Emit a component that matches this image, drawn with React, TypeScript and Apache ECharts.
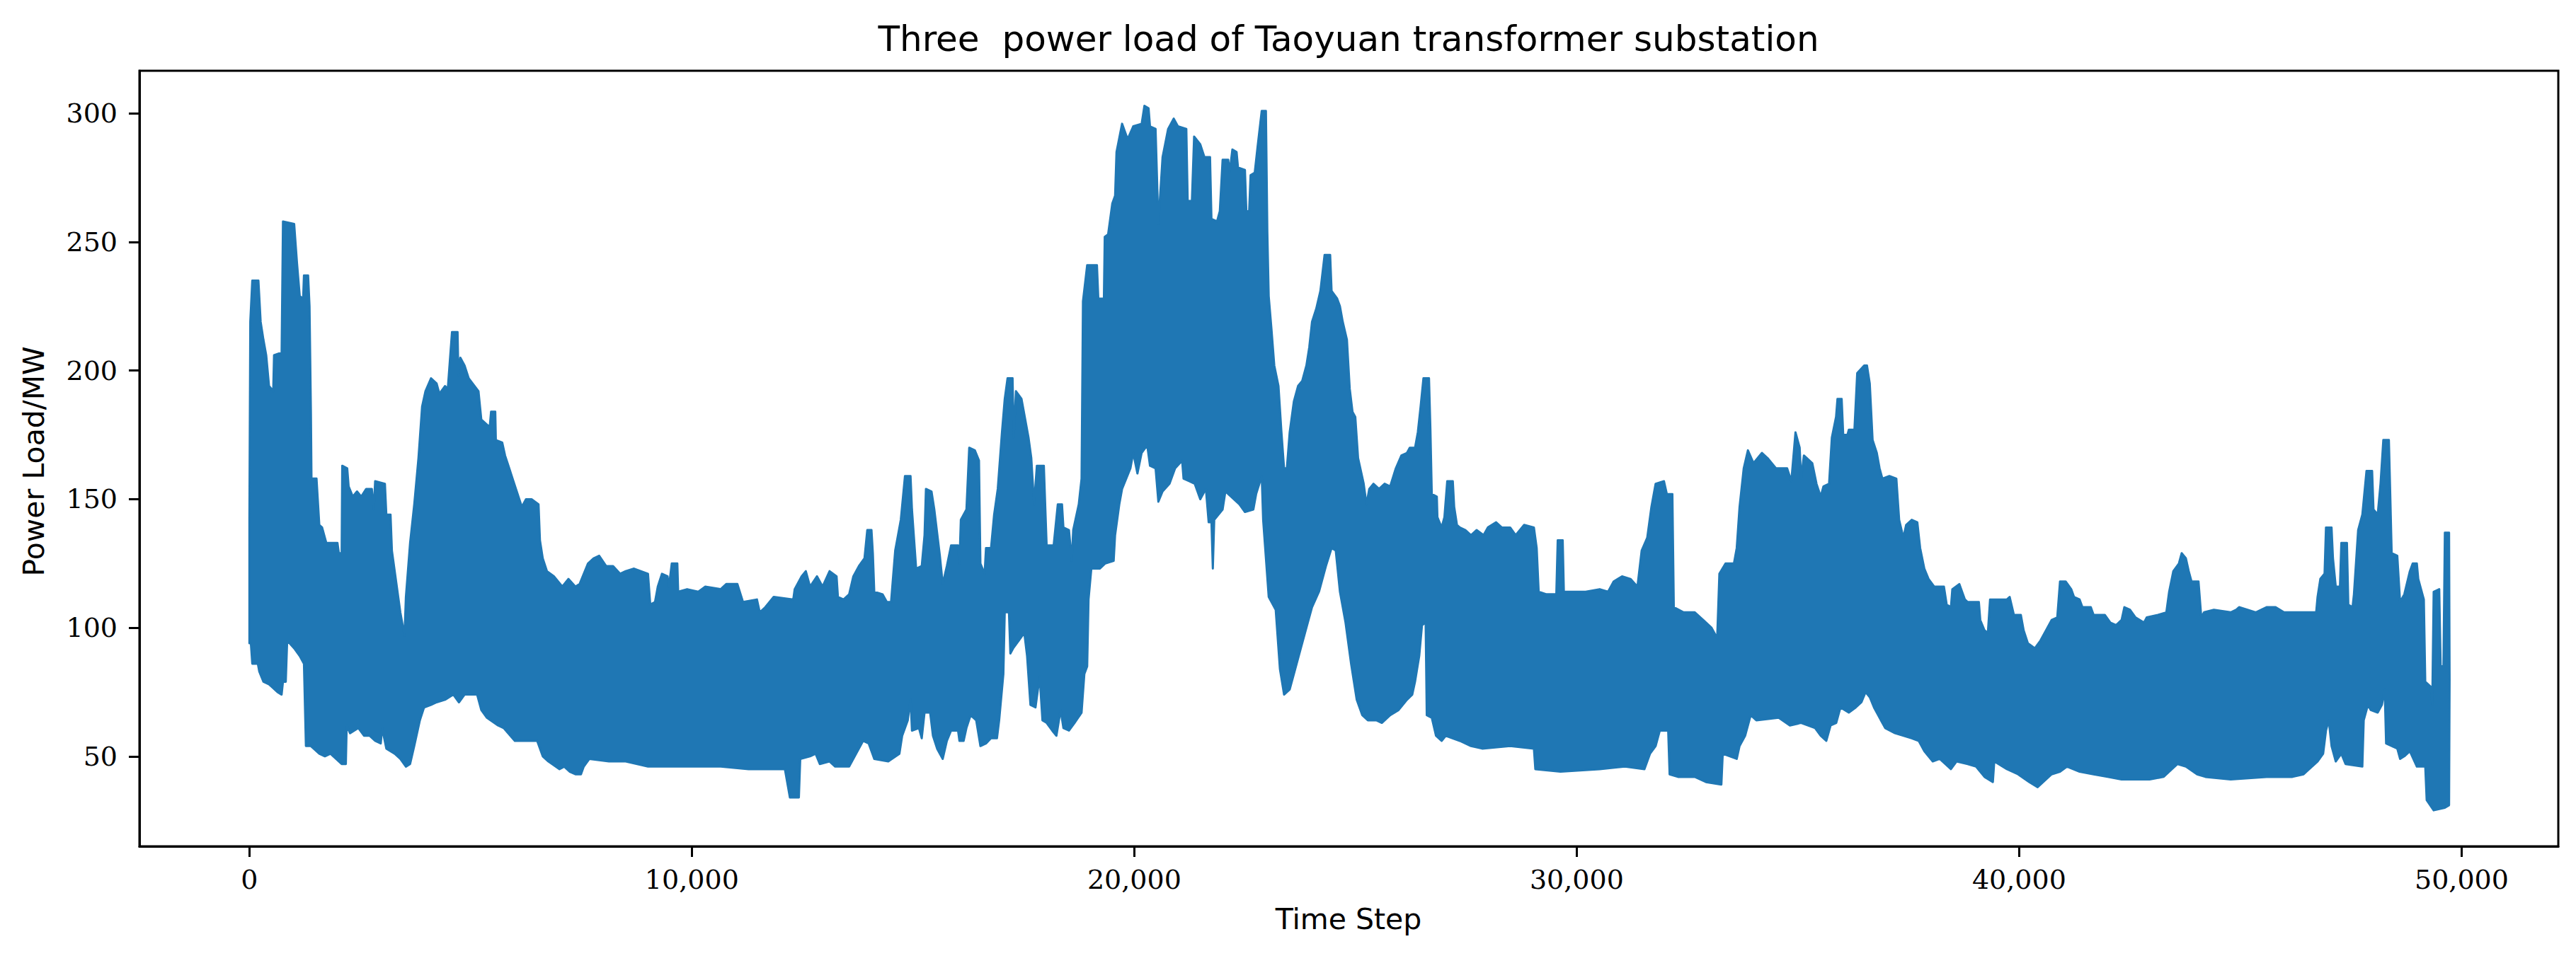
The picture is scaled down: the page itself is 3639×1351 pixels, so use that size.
import React, { useEffect, useRef } from "react";
import * as echarts from "echarts";

const TITLE = "Three  power load of Taoyuan transformer substation";
const X_NAME = "Time Step";
const Y_NAME = "Power Load/MW";
const X_TICKS = [0, 10000, 20000, 30000, 40000, 50000];
const Y_TICKS = [50, 100, 150, 200, 250, 300];
const BLUE = "#1f77b4";

// upper envelope of the dense load trace: [time step, MW]
const upperEnvelope: [number, number][] = [
  [0, 142], [20, 219], [65, 235], [204, 235], [254, 219], [317, 212], [380, 206], [444, 194], [538, 192], [557, 206],
  [728, 207], [759, 258], [1012, 257], [1075, 242], [1138, 229], [1214, 228], [1233, 237], [1327, 237], [1359, 225], [1390, 184],
  [1403, 158], [1517, 158], [1580, 140], [1643, 139], [1738, 133], [1990, 133], [2022, 129], [2085, 129], [2098, 163], [2211, 162],
  [2243, 155], [2337, 151], [2432, 153], [2527, 151], [2640, 154], [2767, 154], [2811, 146], [2842, 157], [3063, 156], [3095, 144],
  [3190, 144], [3221, 130], [3316, 118], [3411, 106], [3505, 97], [3537, 112], [3632, 133], [3726, 148], [3821, 166], [3903, 186],
  [3979, 192], [4105, 197], [4231, 195], [4294, 191], [4421, 194], [4484, 193], [4579, 215], [4705, 215], [4724, 198], [4768, 205],
  [4863, 202], [4957, 197], [5178, 192], [5241, 181], [5431, 178], [5462, 184], [5557, 184], [5570, 173], [5715, 172], [5778, 167],
  [5873, 162], [5967, 157], [6157, 147], [6251, 150], [6378, 150], [6535, 148], [6567, 134], [6630, 127], [6725, 122], [6883, 120],
  [7072, 116], [7210, 119], [7368, 116], [7463, 117], [7652, 125], [7778, 127], [7905, 128], [8062, 124], [8220, 124], [8378, 121],
  [8504, 122], [8694, 123], [9009, 121], [9060, 109], [9167, 110], [9230, 116], [9325, 121], [9451, 120], [9483, 116], [9546, 125],
  [9672, 125], [9691, 114], [9893, 115], [10146, 114], [10304, 116], [10651, 115], [10777, 117], [11030, 117], [11156, 110], [11471, 111],
  [11535, 106], [11661, 108], [11850, 112], [12292, 111], [12324, 115], [12481, 120], [12576, 122], [12671, 116], [12829, 120], [12955, 116],
  [13113, 122], [13271, 120], [13302, 112], [13429, 111], [13555, 113], [13650, 120], [13776, 124], [13902, 127], [13965, 138], [14060, 138],
  [14091, 129], [14123, 114], [14312, 113], [14407, 110], [14502, 110], [14596, 130], [14723, 142], [14817, 159], [14943, 159], [14975, 146],
  [15070, 123], [15196, 124], [15259, 136], [15291, 154], [15417, 153], [15480, 146], [15606, 128], [15670, 117], [15764, 124], [15859, 132],
  [16017, 132], [16048, 125], [16080, 142], [16206, 146], [16269, 170], [16396, 169], [16490, 165], [16522, 125], [16617, 121], [16648, 131],
  [16762, 131], [16832, 144], [16914, 154], [17009, 176], [17072, 189], [17135, 197], [17249, 197], [17274, 174], [17325, 192], [17451, 189],
  [17546, 180], [17609, 174], [17672, 166], [17735, 148], [17798, 163], [17956, 163], [17988, 147], [18019, 132], [18177, 132], [18271, 148],
  [18366, 148], [18398, 139], [18524, 138], [18587, 126], [18619, 138], [18745, 148], [18808, 158], [18840, 227], [18935, 241], [19156, 241],
  [19187, 228], [19313, 228], [19332, 252], [19408, 253], [19503, 265], [19566, 268], [19598, 285], [19724, 296], [19850, 290], [19976, 295],
  [20166, 296], [20229, 303], [20323, 302], [20355, 295], [20481, 294], [20544, 257], [20639, 283], [20765, 294], [20892, 298], [20986, 295],
  [21176, 294], [21207, 266], [21302, 266], [21352, 291], [21491, 288], [21586, 283], [21712, 283], [21744, 259], [21870, 258], [21933, 262],
  [21996, 282], [22123, 282], [22154, 277], [22217, 286], [22312, 285], [22344, 279], [22501, 278], [22533, 262], [22596, 262], [22628, 276],
  [22722, 277], [22786, 287], [22880, 301], [22975, 301], [23007, 254], [23038, 229], [23101, 216], [23164, 202], [23259, 194], [23322, 177],
  [23385, 162], [23448, 162], [23512, 176], [23606, 188], [23701, 194], [23796, 196], [23890, 202], [23954, 209], [24017, 219], [24111, 224],
  [24206, 231], [24301, 245], [24427, 245], [24459, 231], [24585, 228], [24648, 225], [24711, 219], [24806, 212], [24869, 193], [24932, 184],
  [24995, 182], [25058, 166], [25185, 156], [25248, 148], [25311, 154], [25405, 156], [25532, 154], [25658, 156], [25784, 155], [25911, 162],
  [26037, 167], [26163, 168], [26226, 170], [26345, 170], [26408, 176], [26471, 186], [26535, 197], [26661, 197], [26693, 177], [26724, 152],
  [26838, 151], [26851, 143], [26946, 139], [27009, 143], [27073, 157], [27199, 157], [27230, 147], [27293, 140], [27357, 139], [27483, 138],
  [27610, 136], [27736, 138], [27894, 136], [27991, 139], [28178, 141], [28305, 139], [28495, 139], [28621, 136], [28811, 140], [29032, 139],
  [29095, 131], [29140, 114], [29317, 113], [29538, 113], [29570, 134], [29683, 134], [29709, 114], [30202, 114], [30518, 115], [30708, 114],
  [30834, 118], [31024, 120], [31214, 119], [31372, 116], [31467, 130], [31593, 135], [31688, 147], [31783, 156], [31972, 157], [32036, 152],
  [32162, 152], [32194, 108], [32415, 106], [32668, 106], [32858, 103], [33047, 100], [33174, 96], [33224, 121], [33363, 125], [33553, 125],
  [33616, 131], [33680, 147], [33774, 162], [33869, 169], [33996, 164], [34186, 168], [34312, 166], [34502, 162], [34755, 162], [34850, 157],
  [34944, 176], [35039, 170], [35071, 158], [35134, 167], [35324, 164], [35419, 156], [35513, 151], [35577, 155], [35703, 156], [35766, 174],
  [35861, 182], [35893, 189], [35988, 189], [36023, 175], [36118, 175], [36149, 177], [36276, 177], [36339, 199], [36497, 202], [36560, 202],
  [36623, 195], [36687, 173], [36782, 168], [36845, 162], [36908, 158], [37066, 159], [37224, 158], [37287, 142], [37382, 135], [37445, 140],
  [37572, 142], [37698, 141], [37762, 131], [37856, 123], [37951, 119], [38078, 116], [38299, 116], [38362, 109], [38457, 108], [38489, 115],
  [38647, 117], [38773, 111], [38837, 110], [39089, 110], [39121, 103], [39216, 99], [39292, 98], [39342, 111], [39722, 111], [39785, 112],
  [39880, 105], [40038, 105], [40101, 99], [40196, 94], [40354, 92], [40480, 95], [40607, 99], [40733, 103], [40860, 104], [40923, 118],
  [41050, 118], [41176, 115], [41239, 112], [41366, 111], [41429, 108], [41619, 108], [41682, 105], [41935, 105], [42061, 102], [42188, 101],
  [42314, 103], [42377, 108], [42504, 107], [42630, 104], [42820, 102], [42883, 104], [43136, 105], [43326, 106], [43389, 114], [43484, 122],
  [43610, 125], [43673, 129], [43768, 127], [43832, 122], [43895, 118], [44053, 118], [44116, 104], [44179, 106], [44401, 107], [44780, 106],
  [44907, 107], [44970, 108], [45160, 107], [45349, 106], [45590, 108], [45795, 108], [45985, 106], [46428, 106], [46712, 106], [46744, 112],
  [46807, 119], [46902, 121], [46934, 139], [47060, 139], [47092, 127], [47155, 116], [47250, 116], [47281, 133], [47408, 133], [47439, 109],
  [47534, 108], [47566, 113], [47661, 138], [47756, 144], [47850, 161], [47977, 161], [48008, 146], [48103, 144], [48167, 156], [48230, 173],
  [48356, 173], [48388, 151], [48419, 129], [48546, 128], [48609, 110], [48704, 113], [48830, 122], [48894, 125], [48988, 125], [49020, 119],
  [49146, 111], [49178, 79], [49304, 77], [49336, 70], [49368, 114], [49494, 115], [49526, 85], [49589, 85], [49621, 137], [49716, 137],
  [49728, 80],
];

// lower envelope of the dense load trace: [time step, MW]
const lowerEnvelope: [number, number][] = [
  [0, 94], [33, 94], [65, 86], [191, 86], [223, 83], [317, 79], [444, 78], [507, 77], [633, 75], [728, 74],
  [759, 79], [822, 79], [854, 95], [1012, 92], [1138, 89], [1233, 86], [1277, 54], [1390, 54], [1580, 51], [1706, 50],
  [1832, 51], [1959, 49], [2085, 47], [2180, 47], [2199, 62], [2274, 59], [2464, 61], [2590, 58], [2716, 58], [2842, 56],
  [2969, 55], [3000, 61], [3095, 53], [3284, 51], [3411, 49], [3537, 46], [3632, 47], [3726, 54], [3853, 64], [3947, 69],
  [4105, 70], [4231, 71], [4421, 72], [4610, 74], [4736, 71], [4863, 74], [5147, 74], [5241, 68], [5368, 65], [5620, 62],
  [5746, 61], [5999, 56], [6251, 56], [6504, 56], [6630, 50], [6757, 48], [7009, 45], [7116, 46], [7242, 44], [7368, 43],
  [7494, 43], [7557, 46], [7684, 49], [8126, 48], [8504, 48], [9009, 46], [10020, 46], [10651, 46], [11282, 45], [12103, 45],
  [12216, 34], [12419, 34], [12450, 49], [12671, 50], [12797, 51], [12892, 47], [13113, 48], [13239, 46], [13555, 46], [13681, 50],
  [13870, 56], [13997, 55], [14123, 49], [14439, 48], [14691, 51], [14754, 58], [14880, 64], [14943, 72], [14975, 60], [15133, 61],
  [15196, 57], [15259, 67], [15386, 67], [15449, 58], [15543, 53], [15670, 49], [15764, 56], [15859, 60], [16017, 60], [16048, 56],
  [16143, 56], [16206, 61], [16301, 66], [16427, 64], [16522, 54], [16648, 55], [16757, 57], [16896, 57], [16946, 64], [17041, 82],
  [17072, 106], [17167, 106], [17199, 90], [17262, 92], [17388, 95], [17514, 98], [17577, 89], [17653, 70], [17767, 69], [17861, 81],
  [17924, 64], [18019, 63], [18145, 60], [18240, 58], [18335, 68], [18398, 61], [18524, 60], [18650, 63], [18808, 67], [18871, 82],
  [18935, 85], [18966, 111], [19029, 123], [19219, 123], [19345, 125], [19534, 126], [19566, 136], [19661, 148], [19724, 154], [19913, 162],
  [19976, 168], [20071, 160], [20166, 168], [20292, 171], [20355, 163], [20481, 162], [20544, 149], [20639, 153], [20797, 156], [20923, 162],
  [21081, 165], [21113, 158], [21239, 157], [21365, 156], [21491, 150], [21618, 154], [21681, 141], [21744, 141], [21775, 123], [21807, 142],
  [21996, 146], [22059, 153], [22249, 150], [22375, 148], [22501, 145], [22691, 146], [22754, 152], [22880, 159], [22912, 142], [23038, 112],
  [23196, 107], [23291, 84], [23385, 74], [23512, 76], [23638, 84], [23764, 92], [23890, 100], [24017, 108], [24174, 114], [24332, 124],
  [24459, 131], [24553, 130], [24648, 114], [24774, 102], [24900, 86], [25027, 72], [25153, 66], [25279, 64], [25469, 64], [25595, 63],
  [25784, 66], [25974, 68], [26163, 72], [26282, 74], [26345, 79], [26440, 89], [26503, 101], [26585, 102], [26610, 66], [26724, 65],
  [26819, 58], [26946, 56], [27040, 58], [27357, 56], [27610, 54], [27862, 53], [28495, 54], [29032, 53], [29064, 45], [29633, 44],
  [30518, 45], [31087, 46], [31530, 45], [31656, 51], [31783, 54], [31878, 60], [32067, 60], [32099, 43], [32289, 42], [32668, 42],
  [32921, 40], [33269, 39], [33300, 51], [33616, 49], [33680, 54], [33806, 58], [33932, 66], [34059, 64], [34565, 65], [34818, 62],
  [35071, 63], [35387, 61], [35513, 58], [35640, 56], [35738, 62], [35865, 63], [35960, 69], [36149, 67], [36307, 69], [36434, 71],
  [36529, 75], [36623, 73], [36718, 69], [36876, 64], [36971, 61], [37193, 59], [37572, 57], [37730, 56], [37856, 52], [38046, 48],
  [38204, 49], [38457, 45], [38584, 48], [38837, 47], [39026, 46], [39216, 42], [39405, 40], [39437, 48], [39722, 45], [39975, 43],
  [40228, 40], [40417, 38], [40607, 41], [40733, 43], [40923, 44], [41081, 46], [41366, 44], [41682, 43], [41998, 42], [42314, 41],
  [42946, 41], [43263, 42], [43452, 45], [43579, 47], [43768, 46], [44021, 43], [44211, 42], [44780, 41], [45590, 42], [46175, 42],
  [46428, 43], [46554, 45], [46744, 48], [46870, 51], [46934, 60], [46997, 64], [47060, 54], [47155, 48], [47281, 51], [47376, 47],
  [47756, 46], [47787, 64], [47882, 70], [47945, 68], [48103, 67], [48198, 70], [48261, 76], [48293, 55], [48546, 53], [48609, 49],
  [48704, 50], [48830, 52], [48988, 46], [49178, 46], [49210, 33], [49368, 29], [49621, 30], [49716, 31], [49728, 80],
];

export default function App() {
  const ref = useRef<HTMLDivElement>(null);

  useEffect(() => {
    if (!ref.current) return;
    const chart = echarts.init(ref.current, null, { renderer: "svg" });
    const tickLabel = {
      fontFamily: "DejaVu Serif",
      fontSize: 38,
      color: "#000",
    };
    const axisLine = { show: true, onZero: false, lineStyle: { color: "#000", width: 3 } };
    const axisTick = (values: number[]) => ({
      show: true,
      inside: false,
      length: 15,
      lineStyle: { color: "#000", width: 3 },
      customValues: values,
    });
    chart.setOption({
      animation: false,
      backgroundColor: "#fff",
      grid: {
        left: 197,
        right: 25,
        top: 100,
        bottom: 155,
        show: true,
        borderColor: "#000",
        borderWidth: 3,
        backgroundColor: "transparent",
        outerBoundsMode: "none",
      },
      xAxis: {
        type: "value",
        position: "bottom",
        min: -2485,
        max: 52185,
        axisLine,
        splitLine: { show: false },
        axisTick: axisTick(X_TICKS),
        axisLabel: {
          ...tickLabel,
          margin: 28,
          customValues: X_TICKS,
          formatter: (v: number) => v.toLocaleString("en-US"),
        },
      },
      yAxis: {
        type: "value",
        position: "left",
        min: 15,
        max: 316.6,
        axisLine,
        splitLine: { show: false },
        axisTick: axisTick(Y_TICKS),
        axisLabel: {
          ...tickLabel,
          margin: 31,
          customValues: Y_TICKS,
        },
      },
      graphic: [
        {
          type: "text",
          x: 1905,
          y: 55,
          style: {
            text: TITLE,
            font: "50px 'DejaVu Sans'",
            fill: "#000",
            textAlign: "center",
            textVerticalAlign: "middle",
          },
        },
        {
          type: "text",
          x: 1905,
          y: 1299,
          style: {
            text: X_NAME,
            font: "41px 'DejaVu Sans'",
            fill: "#000",
            textAlign: "center",
            textVerticalAlign: "middle",
          },
        },
        {
          type: "text",
          x: 48,
          y: 652,
          rotation: Math.PI / 2,
          style: {
            text: Y_NAME,
            font: "41px 'DejaVu Sans'",
            fill: "#000",
            textAlign: "center",
            textVerticalAlign: "middle",
          },
        },
      ],
      series: [
        {
          type: "custom",
          silent: true,
          clip: true,
          data: [[0, 100]],
          renderItem: (_params: any, api: any) => {
            const pts = upperEnvelope
              .map((p) => api.coord(p))
              .concat(lowerEnvelope.slice().reverse().map((p) => api.coord(p)));
            return {
              type: "polygon",
              shape: { points: pts },
              style: { fill: BLUE, stroke: BLUE, lineWidth: 3, lineJoin: "round" },
            };
          },
        },
      ],
    });
    return () => chart.dispose();
  }, []);

  return (
    <div
      ref={ref}
      style={{ position: "fixed", left: 0, top: 0, width: 3639, height: 1351, background: "#fff" }}
    />
  );
}
